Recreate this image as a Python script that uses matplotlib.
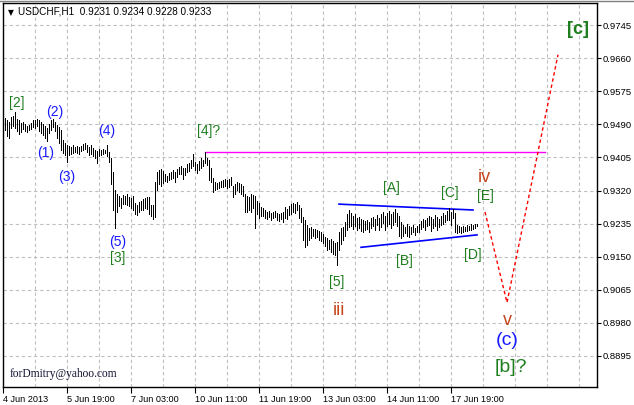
import matplotlib
matplotlib.use("Agg")
import matplotlib.pyplot as plt
import numpy as np

plt.rcParams.update({
    "font.family": ["Liberation Sans", "DejaVu Sans"],
    "font.size": 7,
    "axes.linewidth": 1.0,
})

# -----------------------------
# Data (USDCHF H1, bar highs / lows)
# -----------------------------
highs = [
    .9507, .9500, .9497, .9510, .9512, .9522, .9505, .9500, .9494, .9497, .9492, .9486, .9489,
    .9494, .9500, .9502, .9505, .9502, .9497, .9492, .9486, .9481, .9492, .9500, .9505, .9497,
    .9489, .9484, .9476, .9450, .9443, .9438, .9435, .9433, .9438, .9433, .9435, .9433, .9435,
    .9440, .9443, .9438, .9433, .9438, .9430, .9425, .9422, .9427, .9425, .9428, .9425,
    .9438, .9420, .9404, .9368, .9322, .9312, .9307, .9302, .9309, .9307, .9312, .9304, .9302,
    .9307, .9288, .9284, .9291, .9294, .9299, .9302, .9304, .9304, .9284, .9284, .9343, .9368,
    .9373, .9376, .9371, .9363, .9358, .9366, .9368, .9373, .9368, .9376, .9381, .9384, .9379,
    .9379, .9387, .9391, .9399, .9415, .9394, .9389, .9397, .9404, .9399, .9420, .9404, .9399,
    .9379, .9353, .9343, .9340, .9343, .9345, .9348, .9350, .9348, .9350, .9355, .9332, .9337,
    .9343, .9340, .9337, .9332, .9312, .9307, .9304, .9312, .9309, .9307, .9294, .9288, .9278,
    .9276, .9271, .9265, .9268, .9263, .9265, .9268, .9263, .9260, .9263, .9265, .9278, .9273,
    .9281, .9286, .9288, .9286, .9291, .9284, .9276, .9252, .9245, .9232, .9224, .9227, .9222,
    .9222, .9219, .9217, .9214, .9209, .9201, .9199, .9193, .9196, .9191, .9186, .9188, .9214,
    .9224, .9227, .9240, .9260, .9271, .9263, .9255, .9260, .9250, .9252, .9247, .9245, .9242,
    .9245, .9240, .9250, .9252, .9247, .9257, .9250, .9260, .9265, .9255, .9263, .9268, .9260,
    .9265, .9273, .9263, .9255, .9240, .9232, .9227, .9235, .9229, .9227, .9232, .9224, .9229,
    .9235, .9242, .9247, .9245, .9250, .9255, .9252, .9247, .9257, .9252, .9247, .9255, .9263,
    .9257, .9268, .9276, .9265, .9273, .9263, .9232, .9229, .9227, .9229, .9227, .9232, .9229,
    .9235, .9232, .9235, .9234,
]
lows = [
    .9476, .9461, .9456, .9481, .9486, .9481, .9474, .9466, .9471, .9479, .9474, .9471, .9476,
    .9479, .9484, .9481, .9486, .9474, .9468, .9463, .9456, .9448, .9468, .9476, .9484, .9474,
    .9456, .9443, .9425, .9417, .9412, .9394, .9412, .9415, .9417, .9420, .9417, .9415, .9422,
    .9425, .9427, .9420, .9412, .9415, .9409, .9404, .9391, .9409, .9412, .9415, .9417,
    .9409, .9394, .9337, .9271, .9224, .9265, .9281, .9276, .9286, .9286, .9284, .9281, .9276,
    .9271, .9260, .9257, .9265, .9271, .9271, .9276, .9273, .9260, .9255, .9247, .9252, .9322,
    .9337, .9332, .9340, .9345, .9343, .9348, .9350, .9353, .9343, .9355, .9363, .9363, .9350,
    .9361, .9368, .9371, .9379, .9384, .9373, .9366, .9373, .9379, .9384, .9391, .9386, .9348,
    .9343, .9317, .9322, .9325, .9327, .9330, .9330, .9332, .9327, .9330, .9335, .9304, .9312,
    .9322, .9317, .9312, .9307, .9265, .9265, .9271, .9265, .9276, .9224, .9260, .9250, .9255,
    .9255, .9250, .9247, .9252, .9245, .9250, .9252, .9245, .9242, .9247, .9240, .9250, .9247,
    .9257, .9260, .9265, .9263, .9271, .9250, .9240, .9193, .9175, .9181, .9193, .9199, .9204,
    .9199, .9201, .9193, .9191, .9186, .9178, .9168, .9170, .9163, .9158, .9153, .9129, .9168,
    .9183, .9193, .9204, .9219, .9227, .9229, .9222, .9229, .9219, .9224, .9217, .9214, .9219,
    .9222, .9214, .9224, .9229, .9219, .9232, .9219, .9227, .9237, .9219, .9229, .9235, .9224,
    .9232, .9240, .9229, .9204, .9199, .9204, .9212, .9204, .9201, .9209, .9214, .9206, .9214,
    .9214, .9222, .9227, .9219, .9229, .9232, .9217, .9224, .9229, .9219, .9227, .9232, .9235,
    .9240, .9245, .9245, .9232, .9250, .9214, .9212, .9214, .9212, .9214, .9217, .9217, .9219,
    .9219, .9222, .9224, .9228,
]
bars = np.arange(len(highs))

price_ticks = [0.8895, 0.8980, 0.9065, 0.9150, 0.9235, 0.9320, 0.9405,
               0.9490, 0.9575, 0.9660, 0.9745]
date_ticks = [-1, 31, 63, 95, 127, 159, 191, 223]
date_labels = ["4 Jun 2013", "5 Jun 19:00", "7 Jun 03:00", "10 Jun 11:00",
               "11 Jun 19:00", "13 Jun 03:00", "14 Jun 11:00", "17 Jun 19:00"]

# drawn objects (bar index, price)
resistance = ([100, 270], [0.9420, 0.9420])
tri_upper = ([167, 234], [0.9285, 0.9270])
tri_lower = ([178, 236], [0.9174, 0.9206])
forecast = ([240, 251, 276.5], [0.9265, 0.9032, 0.9669])

# wave labels: text, bar index, price, colour, size, weight
blue_c = "#1a1aff"
green_c = "#1f7f1f"
red_c = "#c4471b"
wave_labels = [
    ("[2]", 6, 0.9545, green_c, 10, "normal"),
    ("(2)", 25, 0.9522, blue_c, 10, "normal"),
    ("(1)", 20.5, 0.9417, blue_c, 10, "normal"),
    ("(3)", 31, 0.9355, blue_c, 10, "normal"),
    ("(4)", 51, 0.9474, blue_c, 10, "normal"),
    ("(5)", 56.5, 0.9188, blue_c, 10, "normal"),
    ("[3]", 56.5, 0.9147, green_c, 10, "normal"),
    ("[4]?", 102, 0.9474, green_c, 10, "normal"),
    ("[5]", 166, 0.9085, green_c, 10, "normal"),
    ("iii", 167, 0.9011, red_c, 13, "normal"),
    ("[A]", 193, 0.9327, green_c, 10, "normal"),
    ("[B]", 199.5, 0.9140, green_c, 10, "normal"),
    ("[C]", 222.5, 0.9314, green_c, 10, "normal"),
    ("[D]", 234, 0.9155, green_c, 10, "normal"),
    ("[E]", 240, 0.9307, green_c, 10, "normal"),
    ("iv", 239.5, 0.9353, red_c, 13, "normal"),
    ("v", 251, 0.8985, red_c, 13, "normal"),
    ("(c)", 251, 0.8934, blue_c, 14, "normal"),
    ("[b]?", 253, 0.8865, green_c, 14, "normal"),
    ("[c]", 286.5, 0.9733, green_c, 13, "bold"),
]

# -----------------------------
# Figure
# -----------------------------
W, H = 634, 405
fig = plt.figure(figsize=(W / 100, H / 100), dpi=100)
ax = fig.add_axes([3 / W, 18 / H, 594 / W, 384 / H])
ax.set_xlim(-1, 296)
ax.set_ylim(0.88150, 0.98020)

grid_c = "#c0c0c0"
for yv in price_ticks:
    ax.axhline(yv, color=grid_c, lw=0.8, dashes=(3, 2.5), zorder=0)
for xv in np.arange(15, 296, 16):
    ax.axvline(xv, color=grid_c, lw=0.8, dashes=(3, 2.5), zorder=0)

ax.vlines(bars, lows, highs, color="black", lw=0.55, antialiased=False, zorder=3)

ax.plot(*resistance, color="#ff00ff", lw=1.0, zorder=2)
ax.plot(*tri_upper, color="#0000ff", lw=1.2, zorder=2)
ax.plot(*tri_lower, color="#0000ff", lw=1.2, zorder=2)
ax.plot(*forecast, color="#ff0000", lw=1.0, dashes=(2.5, 2), zorder=2)

for txt, xb, yp, col, fs, fw in wave_labels:
    ax.text(xb, yp, txt, color=col, fontsize=fs, fontweight=fw,
            ha="center", va="center", zorder=5)

# axes styling (MT4 look)
ax.yaxis.tick_right()
ax.set_yticks(price_ticks)
ax.set_yticklabels([f"{v:.4f}" for v in price_ticks], fontsize=6.8)
ax.set_xticks(date_ticks)
ax.set_xticklabels(date_labels, fontsize=6.6, ha="left")
ax.tick_params(axis="y", direction="out", length=3, width=0.8, pad=1)
ax.tick_params(axis="x", direction="out", length=4, width=0.8, pad=1.5)
for sp in ax.spines.values():
    sp.set_color("black")

ax.text(5 / 594, 1 - 5 / 384, "\u25bc", transform=ax.transAxes, fontsize=5.5,
        family="DejaVu Sans", ha="left", va="top")
ax.text(15 / 594, 1 - 3.5 / 384, "USDCHF,H1  0.9231 0.9234 0.9228 0.9233",
        transform=ax.transAxes, fontsize=7.2, ha="left", va="top")
ax.text(7 / 594, 13 / 384, "forDmitry@yahoo.com", transform=ax.transAxes,
        fontsize=8.3, family="Liberation Serif", color="#101030",
        ha="left", va="center")

fig.add_artist(plt.Line2D([0, 1], [1 - 0.5 / H, 1 - 0.5 / H], color="#808080", lw=1))

fig.savefig("out.png", dpi=100)
